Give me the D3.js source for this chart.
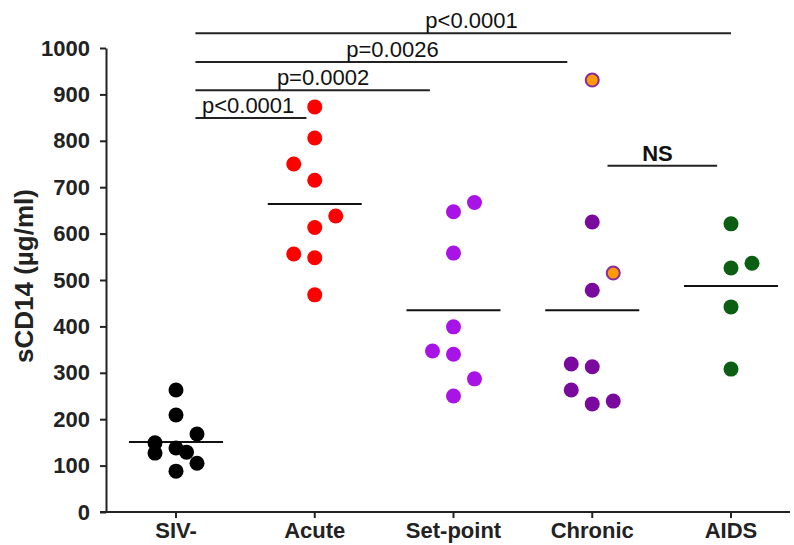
<!DOCTYPE html>
<html>
<head>
<meta charset="utf-8">
<script src="https://cdn.jsdelivr.net/npm/d3@7"></script>
<style>
  body { margin: 0; background: #fff; }
  svg { font-family: "Liberation Sans", Arial, sans-serif; }
</style>
</head>
<body>
<script>
// groups along the x axis
var groups = ["SIV-", "Acute", "Set-point", "Chronic", "AIDS"];

// sCD14 per animal, with a jitter slot (-1 left, 0 centre, 1 right)
var sivNeg   = [[263,0],[209,0],[168,1],[149,-1],[127,-1],[138,0],[129,0.5],[105,1],[88,0]];
var acute    = [[873,0],[806,0],[750,-1],[715,0],[638,1],[613,0],[556,-1],[548,0],[468,0]];
var setPoint = [[647,0],[667,1],[558,0],[399,0],[347,-1],[340,0],[287,1],[250,0]];
var chronic  = [[625,0],[478,0],[319,-1],[313,0],[263,-1],[233,0],[239,1]];
var chronicHighlight = [[931,0],[515,1]];
var aids     = [[621,0],[526,0],[536,1],[442,0],[308,0]];

// group means (horizontal bars)
var means = [151, 664, 435, 435, 487];

// comparison brackets: from / to in group units, height in ug/ml
var brackets = [
  { from: 0.14, to: 0.94, y: 849, label: "p<0.0001", at: 0.52, bold: false },
  { from: 0.14, to: 1.83, y: 909, label: "p=0.0002", at: 1.06, bold: false },
  { from: 0.14, to: 2.82, y: 970, label: "p=0.0026", at: 1.56, bold: false },
  { from: 0.14, to: 4.00, y: 1032, label: "p<0.0001", at: 2.13, bold: false },
  { from: 3.11, to: 3.90, y: 746, label: "NS", at: 3.47, bold: true }
];

var yTicks = [0,100,200,300,400,500,600,700,800,900,1000];

var width = 794, height = 545;

var svg = d3.select("body").append("svg")
  .attr("width", width)
  .attr("height", height);

var y = d3.scaleLinear().domain([0, 1000]).range([512, 48]);
var x = d3.scaleLinear().domain([0, 4]).range([176, 731]);
var jitter = d3.scaleLinear().domain([-1, 1]).range([-21, 21]);

// y axis
var yAxis = d3.axisLeft(y).tickValues(yTicks).tickFormat(d3.format("d"))
  .tickSize(6).tickSizeOuter(0).tickPadding(10);
var gy = svg.append("g").attr("transform", "translate(106,0)").call(yAxis);
gy.select(".domain").attr("stroke", "#222").attr("stroke-width", 2);
gy.selectAll(".tick line").attr("stroke", "#222").attr("stroke-width", 2);
gy.selectAll(".tick text").attr("fill", "#222").style("font-size", "22px").style("font-weight", "bold");

// x axis
svg.append("line")
  .attr("x1", 100).attr("x2", 790)
  .attr("y1", y(0)).attr("y2", y(0))
  .attr("stroke", "#222").attr("stroke-width", 2);

var gx = svg.append("g");
groups.forEach(function(g, i) {
  gx.append("line")
    .attr("x1", x(i)).attr("x2", x(i))
    .attr("y1", y(0)).attr("y2", y(0) + 6)
    .attr("stroke", "#222").attr("stroke-width", 2);
  gx.append("text")
    .attr("x", x(i)).attr("y", 538)
    .attr("text-anchor", "middle")
    .attr("fill", "#222")
    .style("font-size", "22px").style("font-weight", "bold")
    .text(g);
});

// y label
svg.append("text")
  .attr("transform", "translate(33,276) rotate(-90)")
  .attr("text-anchor", "middle")
  .attr("fill", "#222")
  .style("font-size", "26px").style("font-weight", "bold")
  .text("sCD14 (\u00b5g/ml)");

// mean bars
svg.selectAll(".mean").data(means).enter().append("line")
  .attr("class", "mean")
  .attr("x1", function(d, i) { return x(i) - 47; })
  .attr("x2", function(d, i) { return x(i) + 47; })
  .attr("y1", function(d) { return y(d); })
  .attr("y2", function(d) { return y(d); })
  .attr("stroke", "#111").attr("stroke-width", 2);

// dots
var series = [
  { data: sivNeg, idx: 0, fill: "#000000", stroke: "none" },
  { data: acute, idx: 1, fill: "#ff0000", stroke: "none" },
  { data: setPoint, idx: 2, fill: "#a914e6", stroke: "none" },
  { data: chronic, idx: 3, fill: "#7a0a9e", stroke: "none" },
  { data: chronicHighlight, idx: 3, fill: "#ff9a00", stroke: "#8a2aa0" },
  { data: aids, idx: 4, fill: "#0b5e12", stroke: "none" }
];

series.forEach(function(s) {
  svg.append("g").selectAll("circle").data(s.data).enter().append("circle")
    .attr("cx", function(d) { return x(s.idx) + jitter(d[1]); })
    .attr("cy", function(d) { return y(d[0]); })
    .attr("r", s.stroke === "none" ? 7.5 : 6.5)
    .attr("fill", s.fill)
    .attr("stroke", s.stroke)
    .attr("stroke-width", 2);
});

// brackets
brackets.forEach(function(b) {
  svg.append("line")
    .attr("x1", x(b.from)).attr("x2", x(b.to))
    .attr("y1", y(b.y)).attr("y2", y(b.y))
    .attr("stroke", "#222").attr("stroke-width", 2);
  svg.append("text")
    .attr("x", x(b.at)).attr("y", y(b.y) - 5)
    .attr("text-anchor", "middle")
    .attr("fill", "#111")
    .style("font-size", "22px")
    .style("font-weight", b.bold ? "bold" : "normal")
    .text(b.label);
});
</script>
</body>
</html>
